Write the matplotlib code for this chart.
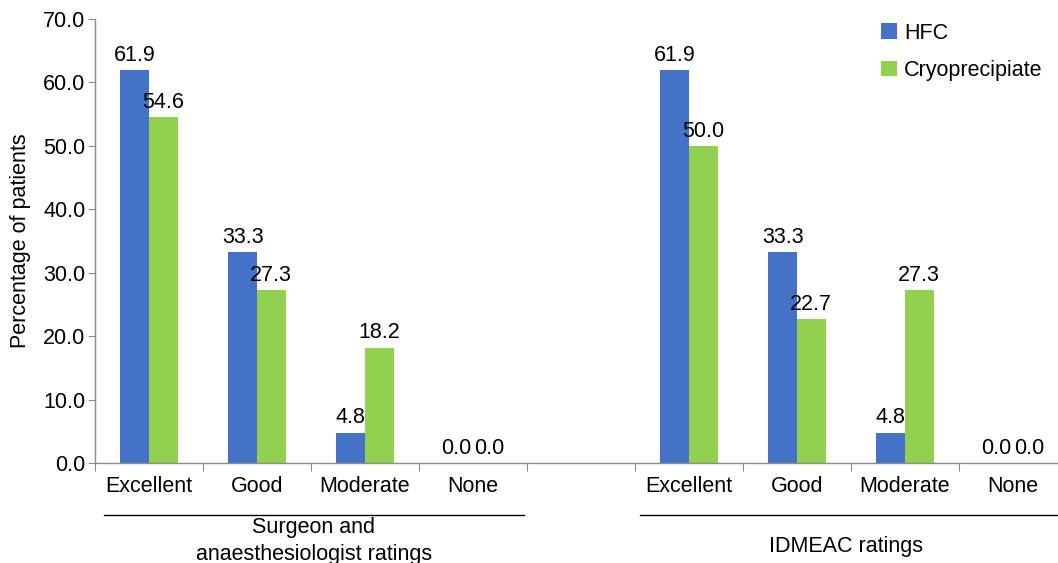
import numpy as np
import matplotlib.pyplot as plt

plt.rcParams['font.family'] = ['Liberation Sans', 'DejaVu Sans']

# Ratings per slot; the 5th slot is an empty spacer between the two groups
categories = ['Excellent', 'Good', 'Moderate', 'None', '',
              'Excellent', 'Good', 'Moderate', 'None']
hfc = [61.9, 33.3, 4.8, 0.0, None, 61.9, 33.3, 4.8, 0.0]
cryo = [54.6, 27.3, 18.2, 0.0, None, 50.0, 22.7, 27.3, 0.0]
groups = ['Surgeon and\nanaesthesiologist ratings', 'IDMEAC ratings']
yticks = np.arange(0, 80, 10)

blue = '#4472C4'
green = '#92D050'
axis_grey = '#8c8c8c'
fs = 15.5

fig = plt.figure(figsize=(10.58, 5.63), dpi=100)
ax = fig.add_axes([95 / 1058, 1 - 463 / 563, 972 / 1058, 444 / 563])

w = 0.265
idx = [i for i, v in enumerate(hfc) if v is not None]
xc = np.array(idx) + 0.5
hv = [hfc[i] for i in idx]
cv = [cryo[i] for i in idx]
b1 = ax.bar(xc - w / 2, hv, w, color=blue, label='HFC')
b2 = ax.bar(xc + w / 2, cv, w, color=green, label='Cryoprecipiate')

# value labels; zero pairs get pushed apart a little so they don't merge
for xs, vals, dx in [(xc - w / 2, hv, -1.5), (xc + w / 2, cv, 1.5)]:
    for x, v in zip(xs, vals):
        ax.annotate(f'{v:.1f}', (x, v), xytext=(dx if v == 0 else 0, 3),
                    textcoords='offset points', ha='center', va='bottom',
                    fontsize=fs)

ax.set_xlim(0, len(categories))
ax.set_ylim(0, 70)
ax.set_yticks(yticks)
ax.set_yticklabels([f'{t:.1f}' for t in yticks], fontsize=fs)
ax.set_ylabel('Percentage of patients', fontsize=fs, labelpad=9)

# boundary ticks as majors, category names on minor ticks
ax.set_xticks(np.arange(0, len(categories) + 1))
ax.set_xticklabels([])
ax.set_xticks(np.arange(len(categories)) + 0.5, minor=True)
ax.set_xticklabels(categories, minor=True, fontsize=fs)
ax.tick_params(axis='x', which='major', length=6, color=axis_grey)
ax.tick_params(axis='x', which='minor', length=0, pad=9)
ax.tick_params(axis='y', length=5, color=axis_grey, pad=2)

for side in ['top', 'right']:
    ax.spines[side].set_visible(False)
for side in ['left', 'bottom']:
    ax.spines[side].set_color(axis_grey)
    ax.spines[side].set_linewidth(1.0)

# group underline and label
trans = ax.get_xaxis_transform()
for (x0, x1), name, ty in zip([(0.08, 3.97), (5.05, 9.0)], groups,
                              [-0.176, -0.187]):
    ax.plot([x0, x1], [-0.117, -0.117], color='black', lw=1.0,
            transform=trans, clip_on=False)
    ax.text((x0 + x1) / 2 if x1 < 9 else 6.95, ty, name, transform=trans,
            ha='center', va='center', fontsize=fs, linespacing=1.35)

ax.legend(handles=[b1, b2], loc='upper left', bbox_to_anchor=(0.789, 1.035),
          frameon=False, fontsize=fs, handlelength=0.75, handleheight=0.75,
          handletextpad=0.3, labelspacing=0.75)

fig.savefig('out.png', dpi=100)
